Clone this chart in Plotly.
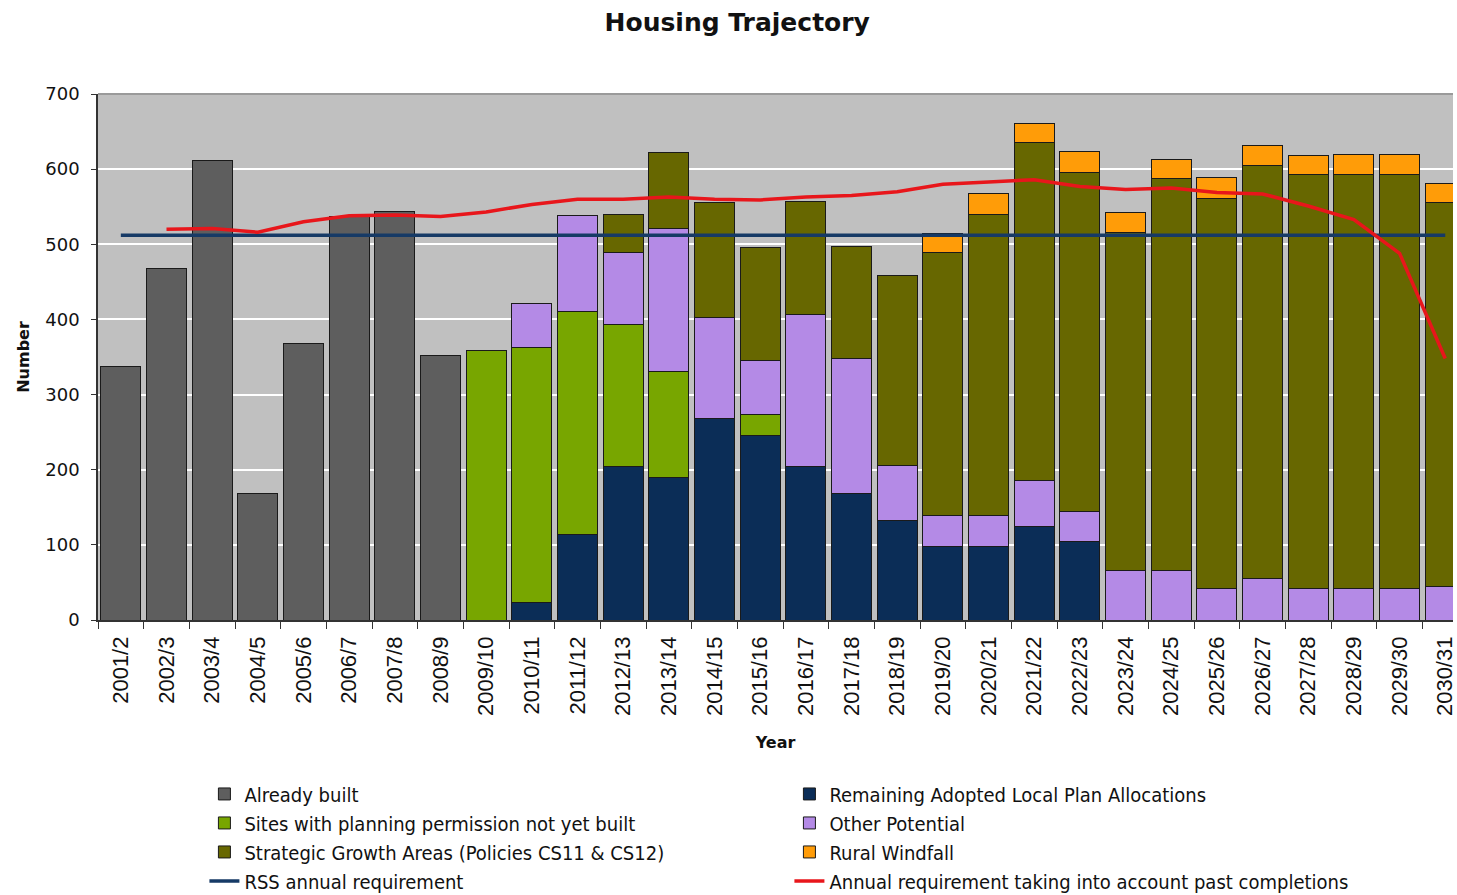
import plotly.graph_objects as go

years = ["2001/2", "2002/3", "2003/4", "2004/5", "2005/6", "2006/7", "2007/8", "2008/9",
         "2009/10", "2010/11", "2011/12", "2012/13", "2013/14", "2014/15", "2015/16",
         "2016/17", "2017/18", "2018/19", "2019/20", "2020/21", "2021/22", "2022/23",
         "2023/24", "2024/25", "2025/26", "2026/27", "2027/28", "2028/29", "2029/30", "2030/31"]

already_built = [338, 468, 612, 169, 368, 537, 544, 352] + [0] * 22
remaining_alloc = [0] * 9 + [23, 114, 204, 189, 268, 246, 204, 168, 133, 98, 98, 124, 104] + [0] * 8
sites_pp = [0] * 8 + [358, 340, 297, 189, 142, 0, 27, 0, 0, 0, 0, 0, 0, 0] + [0] * 8
other_potential = [0] * 9 + [58, 127, 96, 190, 135, 72, 202, 180, 73, 41, 41, 61, 40,
                             66, 66, 42, 55, 42, 42, 42, 45]
strategic_growth = [0] * 11 + [51, 101, 152, 151, 151, 149, 252, 350, 401, 450, 452,
                               450, 521, 519, 550, 551, 551, 551, 510]
rural_windfall = [0] * 18 + [26, 28, 26, 28, 26, 26, 28, 26, 25, 27, 27, 26]

rss_requirement = [512] * 30
annual_requirement = [None, 520, 521, 516, 530, 538, 539, 537, 543, 553, 560, 560, 563,
                      560, 559, 563, 565, 570, 580, 583, 586, 577, 573, 575, 569, 567,
                      551, 533, 488, 348]

FONT = "DejaVu Sans"
XFONT = "Liberation Sans"
LEG_FONT = "DejaVu Sans Condensed"

fig = go.Figure()

bar_series = [
    ("Already built", already_built, "#5e5e5e"),
    ("Remaining Adopted Local Plan Allocations", remaining_alloc, "#0b2d57"),
    ("Sites with planning permission not yet built", sites_pp, "#78a600"),
    ("Other Potential", other_potential, "#b48ae6"),
    ("Strategic Growth Areas (Policies CS11 & CS12)", strategic_growth, "#676700"),
    ("Rural Windfall", rural_windfall, "#ff9c08"),
]
for name, vals, col in bar_series:
    fig.add_trace(go.Bar(
        x=years, y=vals, name=name,
        marker=dict(color=col, line=dict(color="#1a1a1a", width=1)),
    ))

fig.add_trace(go.Scatter(
    x=years, y=rss_requirement, name="RSS annual requirement", mode="lines",
    line=dict(color="#163a66", width=3.5),
))
fig.add_trace(go.Scatter(
    x=years, y=annual_requirement, name="Annual requirement taking into account past completions",
    mode="lines", line=dict(color="#e8161b", width=3.5), connectgaps=False,
))

fig.update_layout(
    width=1457, height=895,
    barmode="stack", bargap=0.12,
    paper_bgcolor="white", plot_bgcolor="#c0c0c0",
    margin=dict(l=98, r=0, t=94, b=275),
    title=dict(text="<b>Housing Trajectory</b>", x=0.506, xanchor="center", y=0.975,
               yanchor="middle", font=dict(family=FONT, size=25, color="#111")),
    font=dict(family=FONT, size=15, color="#111"),
    showlegend=True,
    legend=dict(orientation="h", xref="container", yref="container",
                x=0.1403, xanchor="left", y=0.1347, yanchor="top",
                entrywidth=540, entrywidthmode="pixels",
                font=dict(family=LEG_FONT, size=20, color="#111"),
                itemwidth=30, tracegroupgap=0, bgcolor="rgba(0,0,0,0)",
                traceorder="normal"),
)

fig.update_xaxes(
    range=[-0.5, 29.17], type="category",
    tickangle=-90, tickson="boundaries", ticks="outside", ticklen=7,
    tickcolor="#333", showline=True, linecolor="#333", linewidth=1.5,
    showgrid=False, tickfont=dict(family=XFONT, size=22, color="#111"),
    ticklabelstandoff=6,
    title=dict(text="<b>Year</b>", font=dict(family=FONT, size=16, color="#111"), standoff=22),
)
fig.update_yaxes(
    range=[0, 700], dtick=100, ticks="outside", ticklen=5, tickcolor="#333",
    showline=True, linecolor="#333", linewidth=1.5,
    gridcolor="white", gridwidth=2, zeroline=False,
    tickfont=dict(family=FONT, size=18, color="#111"), ticklabelstandoff=8,
    title=dict(text="<b>Number</b>", font=dict(family=FONT, size=16, color="#111"), standoff=12),
)

fig.add_shape(type="line", xref="paper", yref="paper", x0=0, x1=1, y0=1, y1=1,
              line=dict(color="#9a9a9a", width=2))

fig.write_html("out.html",
               config={"displayModeBar": False},
               post_script="document.body.style.margin='0';document.body.style.overflow='hidden';")
